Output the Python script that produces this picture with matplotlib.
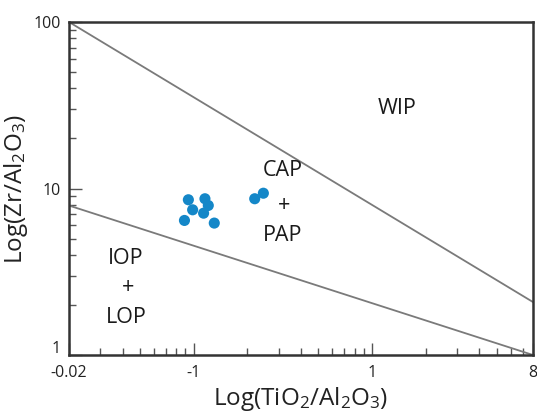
import matplotlib
matplotlib.use("Agg")
import matplotlib.pyplot as plt
from matplotlib.ticker import FixedLocator, LogLocator, NullFormatter
from matplotlib.transforms import ScaledTranslation

plt.rcParams['font.family'] = ['Open Sans', 'DejaVu Sans']
plt.rcParams['mathtext.fontset'] = 'custom'
plt.rcParams['mathtext.rm'] = 'Open Sans'
plt.rcParams['mathtext.it'] = 'Open Sans'
plt.rcParams['mathtext.bf'] = 'Open Sans'
plt.rcParams['mathtext.default'] = 'rm'

# Sample ratios
tio2_al2o3 = [0.0934, 0.1157, 0.1208, 0.0987, 0.1137, 0.0888, 0.1305, 0.220, 0.246]
zr_al2o3 = [8.56, 8.68, 7.91, 7.45, 7.11, 6.43, 6.20, 8.68, 9.37]

# Field boundaries (x, y endpoints)
upper_x = [0.02, 8.0]
upper_y = [100.0, 2.08]
lower_x = [0.02, 8.0]
lower_y = [7.9, 1.0]

# Field labels
field_labels = ["WIP", "CAP", "+", "PAP", "IOP", "+", "LOP"]
field_x = [1.38, 0.314, 0.322, 0.314, 0.0417, 0.0428, 0.0417]
field_y = [30.1, 12.8, 7.9, 5.23, 3.81, 2.55, 1.67]

x_ticks = [0.02, 0.1, 1, 8]
x_tick_labels = ["-0.02", "-1", "1", "8"]
y_ticks = [1, 10, 100]
y_tick_labels = ["1", "10", "100"]

fig = plt.figure(figsize=(5.37, 4.12), dpi=100)
ax = fig.add_axes([0.1285, 0.1383, 0.8641, 0.8083])
ax.set_xscale('log')
ax.set_yscale('log')
ax.set_xlim(0.02, 8)
ax.set_ylim(1, 100)

line_color = '#7a7a7a'
ax.plot(upper_x, upper_y, color=line_color, lw=1.3, zorder=2)
ax.plot(lower_x, lower_y, color=line_color, lw=1.3, zorder=2)

ax.scatter(tio2_al2o3, zr_al2o3, s=64, color='#1487c8', edgecolors='none', zorder=3)

for t, x, y in zip(field_labels, field_x, field_y):
    ax.text(x, y, t, ha='center', va='center', fontsize=15.5, color='#1a1a1a')

ax.xaxis.set_major_locator(FixedLocator(x_ticks))
ax.set_xticklabels(x_tick_labels)
ax.xaxis.set_minor_locator(LogLocator(base=10, subs=range(2, 10)))
ax.xaxis.set_minor_formatter(NullFormatter())
ax.yaxis.set_major_locator(FixedLocator(y_ticks))
ax.set_yticklabels(y_tick_labels)
ax.yaxis.set_minor_locator(LogLocator(base=10, subs=range(2, 10)))
ax.yaxis.set_minor_formatter(NullFormatter())

for s in ax.spines.values():
    s.set_linewidth(1.8)
    s.set_color('#333333')

ax.tick_params(which='major', direction='in', length=9, width=1.0, color='#555555',
               labelsize=11.5, labelcolor='#222222', pad=6)
ax.tick_params(which='minor', direction='in', length=5, width=1.0, color='#555555')
ax.tick_params(axis='x', which='major', pad=7)

# lift the bottom y tick label so it clears the first x tick label
lbl = ax.get_yticklabels()[0]
lbl.set_transform(lbl.get_transform() + ScaledTranslation(0, 6 / 72, fig.dpi_scale_trans))

ax.set_xlabel(r'Log(TiO$_2$/Al$_2$O$_3$)', fontsize=17.5, color='#222222')
ax.set_ylabel(r'Log(Zr/Al$_2$O$_3$)', fontsize=17.5, color='#222222')
ax.xaxis.set_label_coords(0.5, -0.09)
ax.yaxis.set_label_coords(-0.085, 0.5)

fig.savefig('out.png', dpi=100)
